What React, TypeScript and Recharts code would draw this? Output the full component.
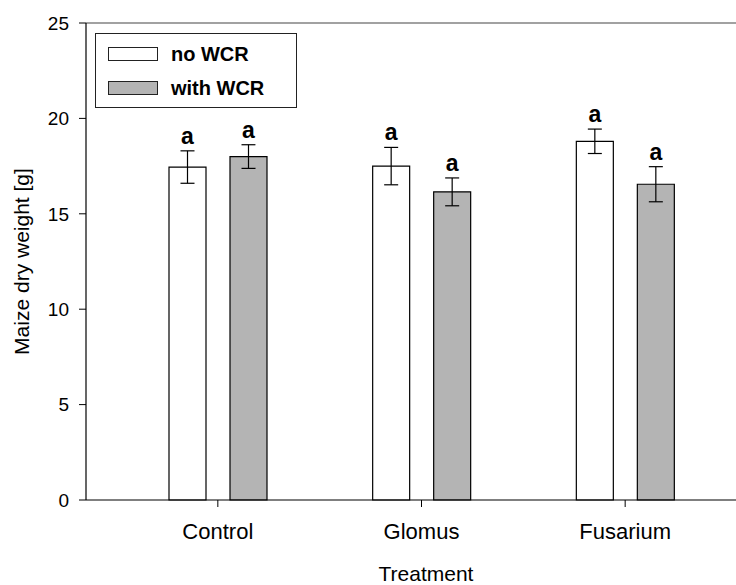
import {
  BarChart,
  Bar,
  XAxis,
  YAxis,
  ErrorBar,
  LabelList,
  Label,
  Legend,
  ReferenceLine,
} from "recharts";

const categories = ["Control", "Glomus", "Fusarium"];
const noWcr = [17.45, 17.5, 18.8];
const noWcrErr = [0.85, 0.98, 0.64];
const withWcr = [18.0, 16.15, 16.55];
const withWcrErr = [0.62, 0.73, 0.92];
const noWcrLetters = ["a", "a", "a"];
const withWcrLetters = ["a", "a", "a"];
const yTicks = [0, 5, 10, 15, 20, 25];

const FONT = "'Liberation Sans', Arial, sans-serif";

const data = categories.map((c, i) => ({
  treatment: c,
  noWcr: noWcr[i],
  noWcrErr: noWcrErr[i],
  noWcrLetter: noWcrLetters[i],
  withWcr: withWcr[i],
  withWcrErr: withWcrErr[i],
  withWcrLetter: withWcrLetters[i],
}));

// letter sits a few px above the top of the error bar
function letterContent(values: number[], errs: number[]) {
  return (props: any) => {
    const { x, y, width, height, value, index } = props;
    const pxPerUnit = height / values[index];
    const top = y - errs[index] * pxPerUnit;
    return (
      <text
        x={x + width / 2}
        y={top - 7}
        textAnchor="middle"
        fontFamily={FONT}
        fontWeight="bold"
        fontSize={23}
        fill="#000"
      >
        {value}
      </text>
    );
  };
}

const legendItems = [
  { name: "no WCR", fill: "#ffffff" },
  { name: "with WCR", fill: "#b4b4b4" },
];

function LegendBox() {
  return (
    <div
      style={{
        width: 202,
        height: 75,
        border: "1px solid #222",
        boxSizing: "border-box",
        background: "#fff",
        paddingTop: 3,
        fontFamily: FONT,
      }}
    >
      {legendItems.map((it) => (
        <div
          key={it.name}
          style={{ display: "flex", alignItems: "center", height: 34, paddingLeft: 12 }}
        >
          <div
            style={{
              width: 50,
              height: 14,
              background: it.fill,
              border: "1px solid #222",
              boxSizing: "border-box",
            }}
          />
          <span style={{ marginLeft: 13, fontWeight: "bold", fontSize: 20, color: "#000" }}>
            {it.name}
          </span>
        </div>
      ))}
    </div>
  );
}

export default function App() {
  return (
    <div style={{ position: "absolute", left: 0, top: 0 }}>
      <BarChart
        width={736}
        height={585}
        data={data}
        margin={{ top: 23, right: 0, bottom: 0, left: 0 }}
        barSize={37}
        barGap={24}
      >
        <ReferenceLine y={25} stroke="#444" strokeWidth={1.2} />
        <XAxis
          dataKey="treatment"
          height={85}
          padding={{ left: 30, right: 9 }}
          axisLine={{ stroke: "#000", strokeWidth: 1.2 }}
          tickLine={{ stroke: "#000", strokeWidth: 1 }}
          tickSize={7}
          tickMargin={16}
          tick={{ fontSize: 22, fill: "#000", fontFamily: FONT }}
        >
          <Label
            content={({ viewBox }: any) => (
              <text
                x={viewBox.x + viewBox.width / 2 + 15}
                y={581}
                textAnchor="middle"
                fontFamily={FONT}
                fontSize={21}
                fill="#000"
              >
                Treatment
              </text>
            )}
          />
        </XAxis>
        <YAxis
          width={86}
          domain={[0, 25]}
          ticks={yTicks}
          axisLine={{ stroke: "#000", strokeWidth: 1.2 }}
          tickLine={{ stroke: "#000", strokeWidth: 1 }}
          tickSize={7}
          tickMargin={10}
          tick={{ fontSize: 19, fill: "#000", fontFamily: FONT }}
        >
          <Label
            content={({ viewBox }: any) => {
              const cx = 21;
              const cy = viewBox.y + viewBox.height / 2;
              return (
                <text
                  x={cx}
                  y={cy}
                  transform={`rotate(-90 ${cx} ${cy})`}
                  textAnchor="middle"
                  dominantBaseline="central"
                  fontFamily={FONT}
                  fontSize={21}
                  fill="#000"
                >
                  Maize dry weight [g]
                </text>
              );
            }}
          />
        </YAxis>
        <Legend
          layout="vertical"
          align="center"
          verticalAlign="middle"
          content={() => <LegendBox />}
          wrapperStyle={{ left: 95, top: 33, width: 202, height: 75 }}
        />
        <Bar
          dataKey="noWcr"
          name="no WCR"
          fill="#ffffff"
          stroke="#000"
          strokeWidth={1.2}
          isAnimationActive={false}
        >
          <ErrorBar dataKey="noWcrErr" width={7} stroke="#000" strokeWidth={1.2} direction="y" />
          <LabelList dataKey="noWcrLetter" content={letterContent(noWcr, noWcrErr)} />
        </Bar>
        <Bar
          dataKey="withWcr"
          name="with WCR"
          fill="#b4b4b4"
          stroke="#000"
          strokeWidth={1.2}
          isAnimationActive={false}
        >
          <ErrorBar dataKey="withWcrErr" width={7} stroke="#000" strokeWidth={1.2} direction="y" />
          <LabelList dataKey="withWcrLetter" content={letterContent(withWcr, withWcrErr)} />
        </Bar>
      </BarChart>
    </div>
  );
}
